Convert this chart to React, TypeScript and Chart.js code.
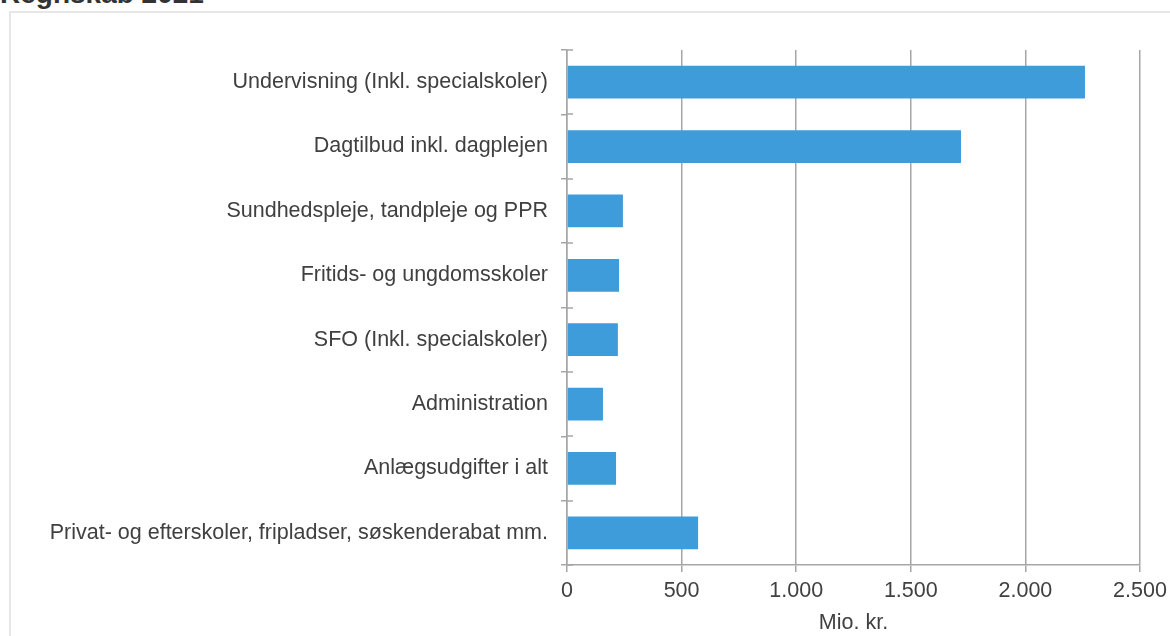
import React, { useEffect, useRef } from "react";
import { Chart, registerables } from "chart.js";

Chart.register(...registerables);

const categories = [
  "Undervisning (Inkl. specialskoler)",
  "Dagtilbud inkl. dagplejen",
  "Sundhedspleje, tandpleje og PPR",
  "Fritids- og ungdomsskoler",
  "SFO (Inkl. specialskoler)",
  "Administration",
  "Anlægsudgifter i alt",
  "Privat- og efterskoler, fripladser, søskenderabat mm.",
];
const values = [2260, 1719, 244, 227, 222, 157, 214, 572];
const xTicks = [0, 500, 1000, 1500, 2000, 2500];
const titleText = "Regnskab 2021";
const axisTitle = "Mio. kr.";

const FONT = "'Liberation Sans', Arial, sans-serif";
const TEXT = "#404040";
const GRID = "#a6a6a6";

function fmt(v: number): string {
  return String(Math.round(v)).replace(/\B(?=(\d{3})+(?!\d))/g, ".");
}

const innerTicks = {
  id: "innerTicks",
  afterDraw(chart: any) {
    const y = chart.scales.y;
    const ctx = chart.ctx;
    ctx.save();
    ctx.strokeStyle = GRID;
    ctx.lineWidth = 1.5;
    const x0 = y.right;
    for (let i = 0; i <= categories.length; i++) {
      const py = Math.round(y.getPixelForValue(i - 0.5));
      ctx.beginPath();
      ctx.moveTo(x0, py);
      ctx.lineTo(x0 + 6, py);
      ctx.stroke();
    }
    ctx.restore();
  },
};

export default function App() {
  const ref = useRef<HTMLCanvasElement | null>(null);
  useEffect(() => {
    if (!ref.current) return;
    const chart = new Chart(ref.current, {
      type: "bar",
      data: {
        labels: categories,
        datasets: [
          {
            data: values,
            backgroundColor: "#3f9cdb",
            borderWidth: 0,
            barPercentage: 0.51,
            categoryPercentage: 1,
          },
        ],
      },
      options: {
        indexAxis: "y",
        animation: false,
        responsive: false,
        devicePixelRatio: 1,
        layout: { padding: { top: 50, right: 30, left: 0, bottom: 0 } },
        plugins: { legend: { display: false }, tooltip: { enabled: false }, title: { display: false } },
        scales: {
          x: {
            min: 0,
            max: 2500,
            afterBuildTicks(scale: any) {
              scale.ticks = xTicks.map((v) => ({ value: v }));
            },
            afterFit(scale: any) {
              scale.height = 71;
              scale.paddingRight = 0;
              scale.paddingLeft = 0;
            },
            grid: { color: GRID, lineWidth: 1.5, tickLength: 7, drawTicks: true },
            border: { display: true, color: GRID, width: 1.5 },
            ticks: {
              color: TEXT,
              font: { family: FONT, size: 21.5 },
              padding: 6,
              maxRotation: 0,
              callback: (v: any) => fmt(Number(v)),
            },
            title: {
              display: true,
              text: axisTitle,
              color: TEXT,
              font: { family: FONT, size: 21.5 },
              padding: { top: 0, bottom: 0 },
            },
          },
          y: {
            offset: true,
            afterFit(scale: any) {
              scale.width = 567;
            },
            grid: { offset: true, drawOnChartArea: false, drawTicks: true, tickLength: 6, color: GRID, lineWidth: 1.5 },
            border: { display: true, color: GRID, width: 1.5 },
            ticks: { color: TEXT, font: { family: FONT, size: 21.5 }, padding: 13, autoSkip: false },
          },
        },
      },
      plugins: [innerTicks],
    } as any);
    return () => chart.destroy();
  }, []);

  return (
    <div style={{ position: "fixed", left: 0, top: 0, width: 1170, height: 636, overflow: "hidden", background: "#fff" }}>
      <div
        style={{
          position: "absolute",
          left: 9,
          top: 11,
          width: 1200,
          height: 700,
          border: "2px solid #e6e6e6",
          boxSizing: "border-box",
        }}
      />
      <div
        style={{
          position: "absolute",
          left: 0,
          top: -22,
          fontFamily: FONT,
          fontWeight: "bold",
          fontSize: 28,
          color: "#333",
          lineHeight: "32px",
          whiteSpace: "nowrap",
        }}
      >
        {titleText}
      </div>
      <canvas ref={ref} width={1170} height={636} style={{ position: "absolute", left: 0, top: 0 }} />
    </div>
  );
}
